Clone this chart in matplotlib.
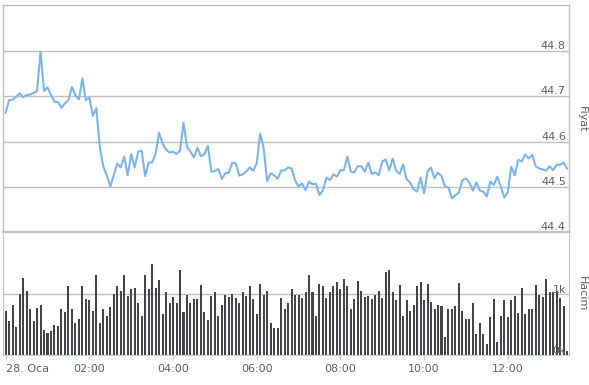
import numpy as np
import matplotlib.pyplot as plt

# 5-minute price and volume data, 28 Jan 00:00 .. 13:25
price = [
    44.664, 44.692, 44.693, 44.699, 44.707, 44.698, 44.703, 44.704, 44.708, 44.712,
    44.799, 44.712, 44.720, 44.703, 44.688, 44.688, 44.675, 44.685, 44.692, 44.721,
    44.703, 44.693, 44.740, 44.692, 44.697, 44.657, 44.674, 44.589, 44.545, 44.526,
    44.501, 44.526, 44.552, 44.543, 44.567, 44.526, 44.573, 44.543, 44.578, 44.580,
    44.524, 44.554, 44.554, 44.573, 44.620, 44.596, 44.583, 44.576, 44.578, 44.573,
    44.580, 44.642, 44.589, 44.578, 44.565, 44.587, 44.568, 44.572, 44.591, 44.534,
    44.535, 44.540, 44.518, 44.530, 44.532, 44.554, 44.552, 44.525, 44.528, 44.534,
    44.543, 44.536, 44.552, 44.618, 44.585, 44.513, 44.530, 44.526, 44.518, 44.536,
    44.537, 44.543, 44.541, 44.515, 44.501, 44.508, 44.493, 44.512, 44.506, 44.507,
    44.482, 44.493, 44.521, 44.515, 44.528, 44.523, 44.537, 44.537, 44.567, 44.534,
    44.532, 44.546, 44.546, 44.534, 44.554, 44.529, 44.532, 44.526, 44.556, 44.561,
    44.537, 44.563, 44.536, 44.529, 44.550, 44.517, 44.510, 44.495, 44.490, 44.521,
    44.486, 44.534, 44.543, 44.519, 44.532, 44.524, 44.501, 44.499, 44.475, 44.482,
    44.488, 44.515, 44.519, 44.510, 44.492, 44.510, 44.492, 44.490, 44.479, 44.512,
    44.504, 44.523, 44.501, 44.477, 44.488, 44.545, 44.526, 44.560, 44.556, 44.572,
    44.563, 44.571, 44.546, 44.541, 44.539, 44.536, 44.546, 44.537, 44.549, 44.549,
    44.554, 44.541,
]

volume = [
    727, 563, 830, 454, 1010, 1270, 1060, 750, 563, 780,
    830, 415, 370, 390, 500, 470, 750, 710, 1130, 765,
    535, 600, 1140, 930, 900, 730, 1320, 535, 765, 650,
    790, 1010, 1130, 1060, 1320, 980, 1080, 1110, 850, 650,
    1310, 1090, 1500, 1110, 1240, 680, 1030, 850, 960, 850,
    1400, 716, 995, 860, 930, 930, 1160, 716, 570, 980,
    1040, 650, 830, 995, 960, 1010, 945, 850, 1040, 980,
    1140, 930, 680, 1170, 995, 1060, 520, 440, 450, 945,
    750, 850, 1090, 995, 995, 945, 1030, 1310, 1030, 650,
    1170, 1140, 945, 1040, 1140, 1210, 1090, 1260, 1140, 750,
    930, 1220, 1060, 960, 980, 930, 995, 1060, 945, 1370,
    1400, 1030, 900, 1160, 650, 900, 730, 830, 1140, 1210,
    910, 1170, 880, 750, 830, 800, 290, 765, 765, 800,
    1190, 730, 585, 600, 860, 340, 535, 340, 175, 620,
    930, 220, 650, 910, 620, 910, 980, 700, 1110, 670,
    765, 765, 1160, 995, 960, 1260, 1030, 1040, 1060, 945,
    810, 60,
]

tick_minutes = [0, 120, 240, 360, 480, 600, 720]
tick_labels = ['28. Oca', '02:00', '04:00', '06:00', '08:00', '10:00', '12:00']
price_ticks = [44.4, 44.5, 44.6, 44.7, 44.8]
volume_ticks = [0, 1000]
volume_tick_labels = ['0k', '1k']

minutes = np.arange(len(price)) * 5

W, H = 589, 385
fig = plt.figure(figsize=(W / 100, H / 100), dpi=100)

grid_c = '#c0c0c0'
label_c = '#606060'
axis_c = '#c0d0e0'


def px_axes(left, top, right, bottom):
    return fig.add_axes([left / W, 1 - bottom / H, (right - left) / W, (bottom - top) / H])


ax_p = px_axes(3.3, 4.5, 568.7, 232.3)
ax_v = px_axes(3.3, 233.6, 568.7, 355.0)

xlim = (-3.4, 807.4)

# price pane
ax_p.plot(minutes, price, color='#7cb5ec', lw=1.5, solid_joinstyle='round', zorder=3)
ax_p.set_xlim(*xlim)
ax_p.set_ylim(44.4, 44.903)
for v in price_ticks[1:]:
    ax_p.axhline(v, color=grid_c, lw=1, zorder=1)
for v in price_ticks:
    ax_p.annotate(f'{v:.1f}', xy=(1, v), xycoords=('axes fraction', 'data'),
                  xytext=(-2, 1.5), textcoords='offset points',
                  ha='right', va='baseline', color=label_c, fontsize=8, zorder=5)
ax_p.set_xticks([])
ax_p.set_yticks([])
for s in ax_p.spines.values():
    s.set_color(grid_c)
    s.set_linewidth(1)
ax_p.spines['bottom'].set_linewidth(1.6)

# volume pane
ax_v.bar(minutes, volume, width=2.9, color='#434348', zorder=2)
ax_v.set_xlim(*xlim)
ax_v.set_ylim(0, 2000)
ax_v.axhline(1000, color=grid_c, lw=1, zorder=1)
for v, lab in zip(volume_ticks, volume_tick_labels):
    ax_v.annotate(lab, xy=(1, v), xycoords=('axes fraction', 'data'),
                  xytext=(-2, 1.0), textcoords='offset points',
                  ha='right', va='baseline', color=label_c, fontsize=8, zorder=5)
ax_v.set_yticks([])
ax_v.set_xticks(tick_minutes)
ax_v.set_xticklabels(tick_labels, color=label_c, fontsize=8)
ax_v.get_xticklabels()[0].set_horizontalalignment('left')
ax_v.tick_params(axis='x', direction='out', length=3.6, width=1, color=axis_c, pad=3)
ax_v.spines['top'].set_visible(False)
for side in ('left', 'right'):
    ax_v.spines[side].set_color(grid_c)
ax_v.spines['bottom'].set_color(axis_c)

fig.text(582 / W, 1 - 119 / H, 'Fiyat', rotation=270, ha='center', va='center',
         color=label_c, fontsize=8)
fig.text(582 / W, 1 - 294 / H, 'Hacim', rotation=270, ha='center', va='center',
         color=label_c, fontsize=8)

fig.savefig('out.png', dpi=100)
